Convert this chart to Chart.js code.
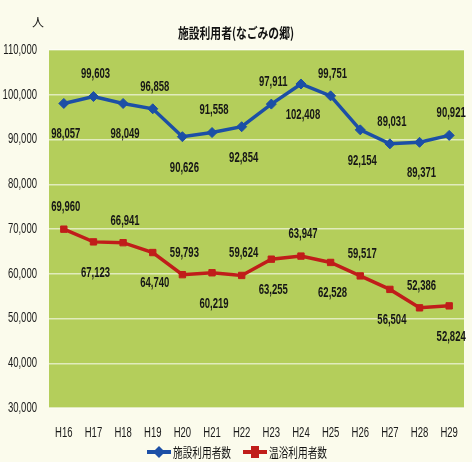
<!DOCTYPE html>
<html>
<head>
<meta charset="utf-8">
<script src="https://cdn.jsdelivr.net/npm/chart.js@4"></script>
<style>
  html, body { margin: 0; padding: 0; background: #fbfbec; }
  #wrap { width: 472px; height: 462px; }
</style>
</head>
<body>
<div id="wrap"><canvas id="usersChart" width="472" height="462"></canvas></div>
<script>
const years = ['H16', 'H17', 'H18', 'H19', 'H20', 'H21', 'H22', 'H23', 'H24', 'H25', 'H26', 'H27', 'H28', 'H29'];
const facilityUsers = [98057, 99603, 98049, 96858, 90626, 91558, 92854, 97911, 102408, 99751, 92154, 89031, 89371, 90921];
const bathUsers = [69960, 67123, 66941, 64740, 59793, 60219, 59624, 63255, 63947, 62528, 59517, 56504, 52386, 52824];
const seriesNames = ['施設利用者数', '温浴利用者数'];
const chartTitle = '施設利用者(なごみの郷)';
const unitLabel = '人';

const sans = '"Liberation Sans", Arial, sans-serif';
const cjk = '"Noto Sans CJK JP", sans-serif';
const blue = '#1c4fa6';
const red = '#c01d1a';
const squeeze = 0.68; // the original uses a condensed face

function narrowText(ctx, text, x, y) {
    const w = ctx.measureText(text).width;
    ctx.fillText(text, x, y, w * squeeze);
}

// green plot background
const plotBg = {
    id: 'plotBg',
    beforeDraw(chart) {
        const { ctx, chartArea: a } = chart;
        ctx.save();
        ctx.fillStyle = '#b4ce5b';
        ctx.fillRect(a.left, a.top, a.right - a.left, a.bottom - a.top);
        ctx.restore();
    }
};

// condensed tick labels, placed from the library's scales
const tickText = {
    id: 'tickText',
    afterDraw(chart) {
        const ctx = chart.ctx;
        const xs = chart.scales.x, ys = chart.scales.y;
        ctx.save();
        ctx.fillStyle = '#1a1a1a';
        ctx.font = '14px ' + sans;
        ctx.textBaseline = 'middle';
        ctx.textAlign = 'right';
        ys.ticks.forEach((t, i) => {
            narrowText(ctx, t.value.toLocaleString('en-US'), 37, ys.getPixelForTick(i));
        });
        ctx.textAlign = 'center';
        xs.ticks.forEach((t, i) => {
            narrowText(ctx, years[t.value], xs.getPixelForTick(i), 433);
        });
        ctx.restore();
    }
};

// value labels, alternating above / below the points
const valueLabels = {
    id: 'valueLabels',
    afterDatasetsDraw(chart) {
        const ctx = chart.ctx;
        ctx.save();
        ctx.font = 'bold 14px ' + sans;
        ctx.fillStyle = '#161616';
        ctx.textAlign = 'center';
        ctx.textBaseline = 'middle';
        chart.data.datasets.forEach((ds, di) => {
            const meta = chart.getDatasetMeta(di);
            meta.data.forEach((pt, i) => {
                // blue: even below, odd above; red: even above, odd below
                let above = (i % 2 === 1);
                if (di === 1) above = !above;
                const y = above ? pt.y - 22 : pt.y + 31;
                narrowText(ctx, ds.data[i].toLocaleString('en-US'), pt.x + 2, y);
            });
        });
        ctx.restore();
    }
};

// title, unit and legend
const decorations = {
    id: 'decorations',
    afterDraw(chart) {
        const ctx = chart.ctx;
        ctx.save();
        ctx.fillStyle = '#111';
        ctx.textBaseline = 'middle';
        ctx.textAlign = 'center';
        ctx.font = 'bold 14px ' + cjk;
        ctx.fillText(chartTitle, 236, 33, 116);
        ctx.font = '12px ' + cjk;
        ctx.fillText(unitLabel, 38, 22);

        const items = [
            { x: 147, color: blue, style: 'rectRot', name: seriesNames[0] },
            { x: 243, color: red, style: 'rect', name: seriesNames[1] }
        ];
        items.forEach(it => {
            const y = 452;
            ctx.strokeStyle = it.color;
            ctx.lineWidth = 4;
            ctx.beginPath();
            ctx.moveTo(it.x, y);
            ctx.lineTo(it.x + 24, y);
            ctx.stroke();
            ctx.fillStyle = it.color;
            ctx.beginPath();
            if (it.style === 'rectRot') {
                ctx.moveTo(it.x + 12, y - 6); ctx.lineTo(it.x + 18, y);
                ctx.lineTo(it.x + 12, y + 6); ctx.lineTo(it.x + 6, y);
            } else {
                ctx.rect(it.x + 8, y - 6, 8, 12);
            }
            ctx.fill();
            ctx.fillStyle = '#111';
            ctx.textAlign = 'left';
            ctx.font = '13px ' + cjk;
            ctx.fillText(it.name, it.x + 26, y, 58);
        });
        ctx.restore();
    }
};

const ctx = document.getElementById('usersChart').getContext('2d');
const usersChart = new Chart(ctx, {
    type: 'line',
    data: {
        labels: years,
        datasets: [{
            label: seriesNames[0],
            data: facilityUsers,
            borderColor: blue,
            backgroundColor: blue,
            borderWidth: 3.5,
            pointStyle: 'rectRot',
            pointRadius: 5,
            pointBorderWidth: 1,
            tension: 0
        }, {
            label: seriesNames[1],
            data: bathUsers,
            borderColor: red,
            backgroundColor: red,
            borderWidth: 3.5,
            pointStyle: 'rect',
            pointRadius: 4.5,
            pointBorderWidth: 1,
            tension: 0
        }]
    },
    options: {
        responsive: false,
        animation: false,
        layout: { padding: { top: 50, right: 8, left: 0, bottom: 0 } },
        plugins: {
            legend: { display: false },
            title: { display: false },
            tooltip: { enabled: false }
        },
        scales: {
            x: {
                offset: true,
                grid: { display: false },
                border: { display: false },
                ticks: { display: false },
                afterFit(scale) { scale.height = 54; }
            },
            y: {
                min: 30000,
                max: 110000,
                grid: { color: 'rgba(255,255,255,0.6)', lineWidth: 1.5, drawTicks: false },
                border: { display: false },
                ticks: { stepSize: 10000, display: false },
                afterFit(scale) { scale.width = 49; }
            }
        }
    },
    plugins: [plotBg, tickText, valueLabels, decorations]
});
</script>
</body>
</html>
